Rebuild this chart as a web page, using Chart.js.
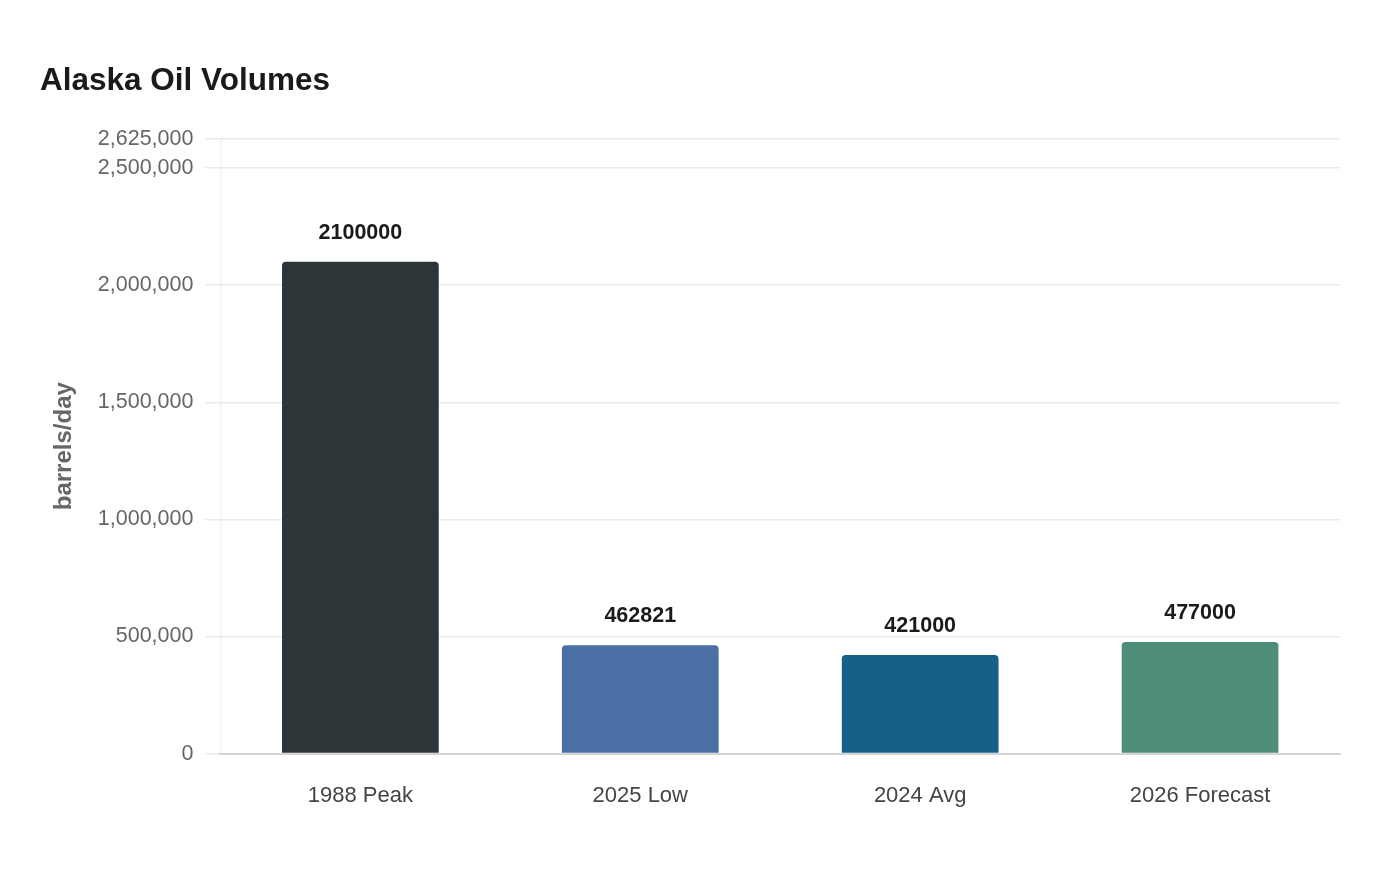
<!DOCTYPE html>
<html>
<head>
<meta charset="utf-8">
<script src="https://cdn.jsdelivr.net/npm/chart.js@4.4.0/dist/chart.umd.min.js"></script>
<style>
html,body{margin:0;padding:0;background:#fff;}
#wrap{width:1400px;height:880px;position:relative;}
</style>
</head>
<body>
<div id="wrap"><canvas id="c" width="1400" height="880"></canvas></div>
<script>
const categories = ["1988 Peak", "2025 Low", "2024 Avg", "2026 Forecast"];
const volumes = [2100000, 462821, 421000, 477000];
const barColors = ["#2e3538", "#4a6fa5", "#166088", "#4f8d7b"];
const yMax = 2625000;
const yTicks = [0, 500000, 1000000, 1500000, 2000000, 2500000, 2625000];
const FONT = '"Liberation Sans", Arial, sans-serif';

const valueLabels = {
  id: 'valueLabels',
  afterDatasetsDraw(chart) {
    const ctx = chart.ctx;
    const meta = chart.getDatasetMeta(0);
    ctx.save();
    ctx.font = 'bold 21.5px ' + FONT;
    ctx.fillStyle = '#1a1a1a';
    ctx.textAlign = 'center';
    ctx.textBaseline = 'bottom';
    meta.data.forEach((bar, i) => {
      ctx.fillText(String(chart.data.datasets[0].data[i]), bar.x, bar.y - 18);
    });
    ctx.restore();
  }
};

const dottedAxis = {
  id: 'dottedAxis',
  beforeDatasetsDraw(chart) {
    const ctx = chart.ctx;
    const a = chart.chartArea;
    ctx.save();
    ctx.strokeStyle = '#d4d4d4';
    ctx.lineWidth = 1;
    ctx.setLineDash([1, 1]);
    ctx.beginPath();
    ctx.moveTo(a.left + 0.5, a.top);
    ctx.lineTo(a.left + 0.5, a.bottom);
    ctx.stroke();
    ctx.restore();
  }
};

new Chart(document.getElementById('c'), {
  type: 'bar',
  data: {
    labels: categories,
    datasets: [{
      data: volumes,
      backgroundColor: barColors,
      borderRadius: {topLeft: 4, topRight: 4},
      borderSkipped: 'bottom',
      categoryPercentage: 0.8,
      barPercentage: 0.7
    }]
  },
  options: {
    responsive: false,
    animation: false,
    devicePixelRatio: 1,
    layout: {padding: {left: 40, right: 60, top: 40, bottom: 50}},
    plugins: {
      legend: {display: false},
      tooltip: {enabled: false},
      title: {
        display: true,
        text: 'Alaska Oil Volumes',
        align: 'start',
        color: '#1a1a1a',
        font: {family: FONT, size: 31.5, weight: 'bold'},
        padding: {top: 22, bottom: 39}
      }
    },
    scales: {
      x: {
        grid: {display: false},
        border: {color: '#d4d4d4', width: 2},
        ticks: {color: '#444', font: {family: FONT, size: 22}, padding: 21}
      },
      y: {
        min: 0,
        max: yMax,
        afterBuildTicks: scale => { scale.ticks = yTicks.map(v => ({value: v})); },
        ticks: {
          color: '#666',
          padding: 12,
          font: {family: FONT, size: 21.5},
          callback: v => v.toLocaleString('en-US')
        },
        grid: {color: '#ebebeb', lineWidth: 1.5, tickLength: 15},
        border: {display: false},
        title: {
          display: true,
          text: 'barrels/day',
          color: '#666',
          font: {family: FONT, size: 24, weight: 'bold'},
          padding: {top: 10, bottom: 7}
        }
      }
    }
  },
  plugins: [valueLabels, dottedAxis]
});
</script>
</body>
</html>
